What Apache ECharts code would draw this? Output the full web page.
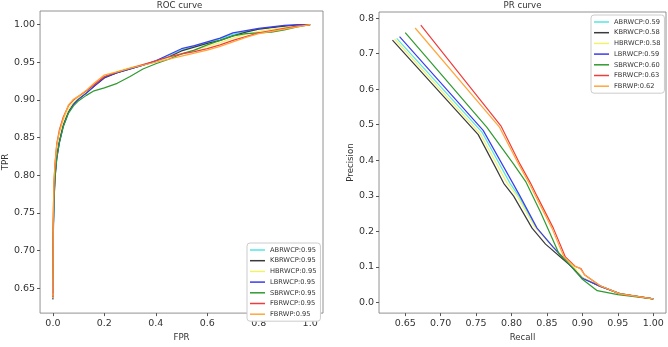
<!DOCTYPE html>
<html>
<head>
<meta charset="utf-8">
<script src="https://cdn.jsdelivr.net/npm/echarts@6/dist/echarts.min.js"></script>
<style>
  html, body { margin: 0; padding: 0; background: #fff; }
  #chart { width: 668px; height: 347px; }
</style>
</head>
<body>
<div id="chart"></div>
<script>
// ROC curve data
const rocFpr = [0, 0.001, 0.004, 0.008, 0.015, 0.025, 0.04, 0.06, 0.08, 0.1, 0.13, 0.16, 0.2, 0.25, 0.3,
  0.35, 0.4, 0.45, 0.5, 0.55, 0.6, 0.65, 0.7, 0.75, 0.8, 0.85, 0.9, 0.95, 1.0]
const rocAbrwcp = [0.64, 0.715, 0.765, 0.798, 0.824, 0.845, 0.866, 0.884, 0.895, 0.902, 0.91, 0.919, 0.93, 0.936, 0.941,
  0.946, 0.952, 0.959, 0.966, 0.971, 0.976, 0.981, 0.987, 0.991, 0.994, 0.996, 0.998, 0.999, 1.0]
const rocKbrwcp = [0.635, 0.72, 0.77, 0.8, 0.825, 0.845, 0.866, 0.884, 0.894, 0.901, 0.909, 0.918, 0.929, 0.936, 0.941,
  0.946, 0.951, 0.957, 0.965, 0.97, 0.975, 0.979, 0.985, 0.99, 0.994, 0.996, 0.998, 0.999, 1.0]
const rocHbrwcp = [0.637, 0.73, 0.785, 0.812, 0.838, 0.855, 0.872, 0.887, 0.897, 0.903, 0.911, 0.921, 0.933, 0.938, 0.943,
  0.947, 0.951, 0.956, 0.961, 0.966, 0.971, 0.976, 0.982, 0.987, 0.991, 0.994, 0.996, 0.998, 1.0]
const rocLbrwcp = [0.643, 0.71, 0.762, 0.795, 0.822, 0.843, 0.865, 0.883, 0.894, 0.901, 0.909, 0.918, 0.93, 0.936, 0.941,
  0.946, 0.952, 0.96, 0.968, 0.972, 0.977, 0.982, 0.989, 0.992, 0.995, 0.997, 0.999, 1.0, 1.0]
const rocSbrwcp = [0.662, 0.72, 0.765, 0.795, 0.823, 0.843, 0.864, 0.882, 0.892, 0.899, 0.906, 0.912, 0.916, 0.922, 0.931,
  0.941, 0.948, 0.954, 0.961, 0.966, 0.973, 0.979, 0.985, 0.988, 0.989, 0.99, 0.993, 0.997, 1.0]
const rocFbrwcp = [0.638, 0.74, 0.79, 0.815, 0.842, 0.86, 0.877, 0.892, 0.9, 0.905, 0.912, 0.92, 0.931, 0.937, 0.942,
  0.947, 0.952, 0.957, 0.961, 0.964, 0.968, 0.973, 0.979, 0.984, 0.989, 0.992, 0.995, 0.998, 1.0]
const rocFbrwp = [0.64, 0.74, 0.79, 0.815, 0.84, 0.858, 0.875, 0.893, 0.901, 0.905, 0.913, 0.922, 0.933, 0.937, 0.942,
  0.946, 0.95, 0.954, 0.958, 0.962, 0.966, 0.971, 0.977, 0.983, 0.988, 0.991, 0.994, 0.997, 1.0]

// PR curve data (recall / precision per model)
const prAbrwcpR = [0.638, 0.758, 0.798, 0.81, 0.834, 0.855, 0.873, 0.89, 0.9, 0.925, 0.953, 1.0]
const prAbrwcpP = [0.743, 0.48, 0.335, 0.3, 0.212, 0.165, 0.125, 0.09, 0.068, 0.046, 0.025, 0.01]
const prKbrwcpR = [0.632, 0.753, 0.775, 0.789, 0.803, 0.829, 0.848, 0.869, 0.89, 0.9, 0.925, 0.953, 1.0]
const prKbrwcpP = [0.738, 0.472, 0.389, 0.335, 0.299, 0.209, 0.164, 0.128, 0.092, 0.069, 0.045, 0.025, 0.01]
const prHbrwcpR = [0.635, 0.756, 0.794, 0.808, 0.832, 0.852, 0.872, 0.89, 0.9, 0.925, 0.953, 1.0]
const prHbrwcpP = [0.741, 0.474, 0.335, 0.299, 0.215, 0.17, 0.13, 0.095, 0.07, 0.046, 0.025, 0.01]
const prLbrwcpR = [0.642, 0.76, 0.802, 0.812, 0.836, 0.859, 0.876, 0.89, 0.9, 0.925, 0.953, 1.0]
const prLbrwcpP = [0.748, 0.484, 0.335, 0.299, 0.209, 0.155, 0.119, 0.088, 0.068, 0.046, 0.024, 0.01]
const prSbrwcpR = [0.65, 0.765, 0.803, 0.82, 0.841, 0.855, 0.867, 0.885, 0.9, 0.91, 0.921, 0.95, 1.0]
const prSbrwcpP = [0.759, 0.493, 0.389, 0.34, 0.254, 0.191, 0.137, 0.1, 0.065, 0.05, 0.033, 0.022, 0.01]
const prFbrwcpR = [0.672, 0.785, 0.812, 0.827, 0.836, 0.859, 0.876, 0.89, 0.898, 0.903, 0.925, 0.953, 1.0]
const prFbrwcpP = [0.78, 0.497, 0.389, 0.335, 0.299, 0.209, 0.128, 0.101, 0.095, 0.078, 0.047, 0.024, 0.01]
const prFbrwpR = [0.664, 0.783, 0.81, 0.825, 0.834, 0.857, 0.874, 0.888, 0.897, 0.903, 0.925, 0.953, 1.0]
const prFbrwpP = [0.772, 0.493, 0.389, 0.335, 0.299, 0.209, 0.128, 0.103, 0.095, 0.078, 0.047, 0.024, 0.01]

const modelNames = ['ABRWCP', 'KBRWCP', 'HBRWCP', 'LBRWCP', 'SBRWCP', 'FBRWCP', 'FBRWP']
const rocAuc = ['0.95', '0.95', '0.95', '0.95', '0.95', '0.95', '0.95']
const prAuc = ['0.59', '0.58', '0.58', '0.59', '0.60', '0.63', '0.62']
const colors = ['#55e6e6', '#3a3a3a', '#f2f26a', '#3b3bef', '#2f9a2f', '#f03c3c', '#ffa63a']

const rocXTicks = [0, 0.2, 0.4, 0.6, 0.8, 1.0]
const rocYTicks = [0.65, 0.7, 0.75, 0.8, 0.85, 0.9, 0.95, 1.0]
const prXTicks = [0.65, 0.7, 0.75, 0.8, 0.85, 0.9, 0.95, 1.0]
const prYTicks = [0, 0.1, 0.2, 0.3, 0.4, 0.5, 0.6, 0.7, 0.8]

const rocTpr = [rocAbrwcp, rocKbrwcp, rocHbrwcp, rocLbrwcp, rocSbrwcp, rocFbrwcp, rocFbrwp]
const prRecall = [prAbrwcpR, prKbrwcpR, prHbrwcpR, prLbrwcpR, prSbrwcpR, prFbrwcpR, prFbrwpR]
const prPrecision = [prAbrwcpP, prKbrwcpP, prHbrwcpP, prLbrwcpP, prSbrwcpP, prFbrwcpP, prFbrwpP]

const font = 'DejaVu Sans'
const textColor = '#333'
const frameColor = '#777'

function pairs (xs, ys) {
  return xs.map((x, i) => [x, ys[i]])
}

function axis (gridIndex, min, max, ticks, digits, name, gap) {
  return {
    type: 'value',
    gridIndex: gridIndex,
    min: min,
    max: max,
    name: name,
    nameLocation: 'middle',
    nameGap: gap,
    nameTextStyle: { fontFamily: font, fontSize: 8.6, color: textColor },
    axisLine: { show: false, onZero: false },
    axisTick: {
      show: true,
      customValues: ticks,
      length: 3,
      lineStyle: { color: '#555', width: 1 }
    },
    axisLabel: {
      customValues: ticks,
      margin: 5,
      fontFamily: font,
      fontSize: 9.5,
      color: textColor,
      formatter: v => v.toFixed(digits)
    },
    splitLine: { show: false }
  }
}

const rocNames = modelNames.map((n, i) => n + ':' + rocAuc[i])
const prNames = modelNames.map((n, i) => n + ':' + prAuc[i])

const series = []
modelNames.forEach((n, i) => {
  series.push({
    name: rocNames[i],
    type: 'line',
    xAxisIndex: 0,
    yAxisIndex: 0,
    showSymbol: false,
    symbol: 'none',
    color: colors[i],
    lineStyle: { width: 1.2, color: colors[i] },
    data: pairs(rocFpr, rocTpr[i])
  })
})
modelNames.forEach((n, i) => {
  series.push({
    name: prNames[i],
    type: 'line',
    xAxisIndex: 1,
    yAxisIndex: 1,
    showSymbol: false,
    symbol: 'none',
    color: colors[i],
    lineStyle: { width: 1.2, color: colors[i] },
    data: pairs(prRecall[i], prPrecision[i])
  })
})

const legendBase = {
  orient: 'vertical',
  icon: 'rect',
  itemWidth: 15,
  itemHeight: 1.5,
  itemGap: 2.7,
  padding: [3, 4, 3, 3],
  backgroundColor: '#fff',
  borderColor: '#ccc',
  borderWidth: 1,
  borderRadius: 3,
  textStyle: { fontFamily: font, fontSize: 6.7, color: textColor, lineHeight: 8 }
}

const chart = echarts.init(document.getElementById('chart'), null, { renderer: 'canvas' })
chart.setOption({
  animation: false,
  backgroundColor: '#fff',
  title: [{
    text: 'ROC curve',
    left: 179.5,
    top: 1,
    textAlign: 'center',
    padding: 0,
    textStyle: { fontFamily: font, fontSize: 8.6, fontWeight: 'normal', color: textColor }
  }, {
    text: 'PR curve',
    left: 522.5,
    top: 1,
    textAlign: 'center',
    padding: 0,
    textStyle: { fontFamily: font, fontSize: 8.6, fontWeight: 'normal', color: textColor }
  }],
  grid: [
    { left: 36, top: 11, width: 287, height: 313, show: true, borderColor: frameColor, borderWidth: 0.8, backgroundColor: 'transparent' },
    { left: 379, top: 12, width: 287, height: 312, show: true, borderColor: frameColor, borderWidth: 0.8, backgroundColor: 'transparent' }
  ],
  xAxis: [
    axis(0, -0.05, 1.05, rocXTicks, 1, 'FPR', 13),
    axis(1, 0.613, 1.018, prXTicks, 2, 'Recall', 13)
  ],
  yAxis: [
    axis(0, 0.617, 1.018, rocYTicks, 2, 'TPR', 30),
    axis(1, -0.03, 0.817, prYTicks, 1, 'Precision', 24)
  ],
  legend: [
    Object.assign({}, legendBase, { left: 247, top: 243, data: rocNames }),
    Object.assign({}, legendBase, { left: 591, top: 15, data: prNames })
  ],
  series: series
})
</script>
</body>
</html>
